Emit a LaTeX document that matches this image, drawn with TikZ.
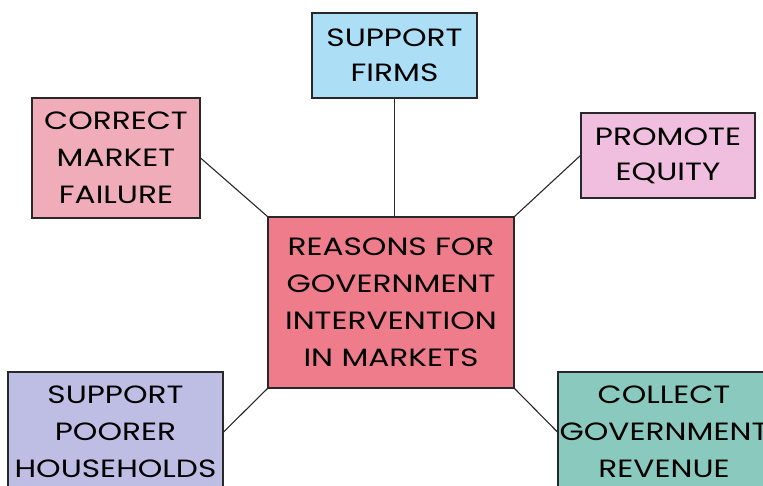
\documentclass[tikz,border=0pt]{standalone}
\usepackage{fontspec}
\setmainfont{Poppins}[FakeStretch=1.25]
\usetikzlibrary{positioning}
\definecolor{centrered}{RGB}{238,124,138}
\definecolor{firmsblue}{RGB}{172,222,246}
\definecolor{failurepink}{RGB}{241,172,186}
\definecolor{equitypink}{RGB}{240,190,222}
\definecolor{poorerlilac}{RGB}{190,190,228}
\definecolor{revenueteal}{RGB}{138,202,190}
\definecolor{edgegrey}{RGB}{40,40,40}

\begin{document}
\begin{tikzpicture}[x=1pt, y=1pt,
                    reason/.style={rectangle, draw=edgegrey, line width=1.1pt, align=center, inner sep=0pt, font=\fontsize{25}{37}\selectfont},
                    link/.style={draw=edgegrey, line width=1.1pt},
                    ]
    \useasboundingbox (0,0) rectangle (763,486);
    \clip (0,0) rectangle (763,486);

    % Centre
    \node[reason, fill=centrered, minimum width=246pt, minimum height=171pt] (reasons) at (391,183.5) {REASONS FOR\\GOVERNMENT\\INTERVENTION\\IN MARKETS};

    % Reasons round the centre
    \node[reason, fill=firmsblue, minimum width=165pt, minimum height=85pt, font=\fontsize{25}{35}\selectfont] (firms) at (394.5,430.5) {SUPPORT\\FIRMS};
    \node[reason, fill=failurepink, minimum width=168pt, minimum height=120pt] (failure) at (116,328) {CORRECT\\MARKET\\FAILURE};
    \node[reason, fill=equitypink, minimum width=174pt, minimum height=85pt, font=\fontsize{25}{35}\selectfont] (equity) at (668,330.5) {PROMOTE\\EQUITY};
    \node[reason, fill=poorerlilac, minimum width=215pt, minimum height=120pt] (poorer) at (115.5,54) {SUPPORT\\POORER\\HOUSEHOLDS};
    \node[reason, fill=revenueteal, minimum width=212pt, minimum height=120pt] (revenue) at (664,54) {COLLECT\\GOVERNMENT\\REVENUE};

    % Links to the centre
    \draw[link] (firms.south) -- (reasons.north -| firms.south);
    \draw[link] (failure.east) -- (reasons.north west);
    \draw[link] (equity.west) -- (reasons.north east);
    \draw[link] (poorer.east) -- (reasons.south west);
    \draw[link] (revenue.west) -- (reasons.south east);

\end{tikzpicture}
\end{document}
